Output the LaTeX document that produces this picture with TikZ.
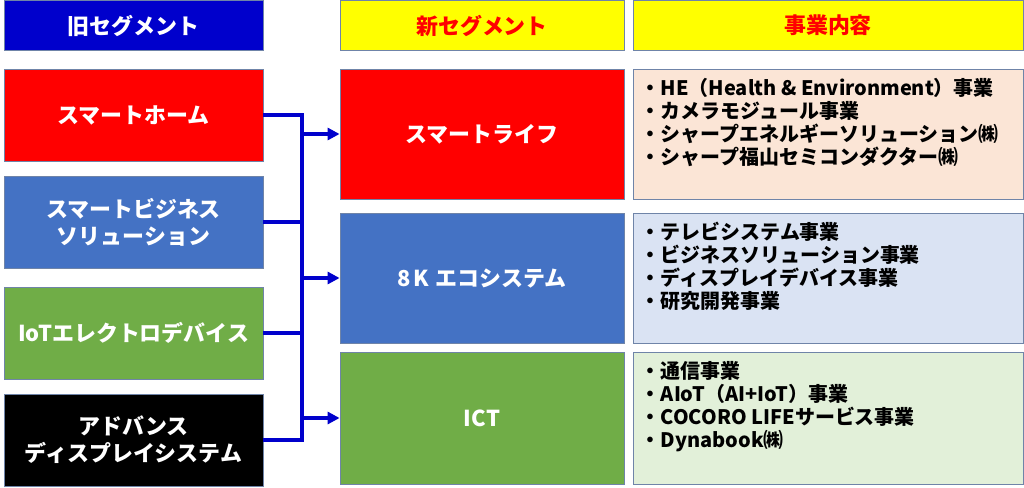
\documentclass[tikz,border=0pt]{standalone}
\usepackage{fontspec}
\setmainfont{Noto Sans CJK JP}
\usetikzlibrary{arrows.meta, calc}
\definecolor{hdblue}{HTML}{0000CC}
\definecolor{segred}{HTML}{FF0000}
\definecolor{segblue}{HTML}{4472C4}
\definecolor{seggreen}{HTML}{70AD47}
\definecolor{hdyellow}{HTML}{FFFF00}
\definecolor{lifebg}{HTML}{FBE5D6}
\definecolor{ecobg}{HTML}{DAE3F3}
\definecolor{ictbg}{HTML}{E2F0D9}
\definecolor{edgegray}{HTML}{6F84A8}

\begin{document}
\begin{tikzpicture}[
  seg/.style={rectangle, draw=edgegray, line width=0.6pt, text=white, align=center, inner sep=0pt, minimum width=6.475cm, minimum height=2.3cm, font=\bfseries\fontsize{15.6}{19.2}\selectfont},
  newseg/.style={seg, minimum width=7.1cm, minimum height=3.25cm},
  head/.style={seg, minimum height=1.25cm},
  yhead/.style={head, fill=hdyellow, text=segred},
  descbox/.style={rectangle, draw=edgegray, line width=0.6pt, minimum width=9.75cm, minimum height=3.25cm},
  desc/.style={anchor=north west, align=left, inner sep=0pt, font=\bfseries\fontsize{14.2}{16.4}\selectfont},
  link/.style={draw=hdblue, line width=2.6pt},
  arrow/.style={link, -{Triangle[length=3mm, width=3mm]}}
]
\useasboundingbox (0,0) rectangle (25.6,-12.175);

% headers
\node[head, fill=hdblue] (oldhead) at (3.3375,-0.64) {旧セグメント};
\node[yhead, minimum width=7.1cm] (newhead) at (12.05,-0.64) {新セグメント};
\node[yhead, minimum width=9.75cm] (bizhead) at (20.7,-0.64) {事業内容};

% old segments
\node[seg, fill=segred] (home) at (3.3375,-2.875) {スマートホーム};
\node[seg, fill=segblue] (biz) at (3.3375,-5.55) {スマートビジネス\\ソリューション};
\node[seg, fill=seggreen] (iot) at (3.3375,-8.325) {IoTエレクトロデバイス};
\node[seg, fill=black] (adv) at (3.3375,-11.0) {アドバンス\\ディスプレイシステム};

% new segments
\node[newseg, fill=segred] (life) at (12.05,-3.35) {スマートライフ};
\node[newseg, fill=segblue] (eco) at (12.05,-6.95) {8\kern0.12em K\kern0.3em エコシステム};
\node[newseg, fill=seggreen, minimum height=3.3cm] (ict) at (12.05,-10.45) {ICT};

% business contents
\node[descbox, fill=lifebg] (lifebox) at (20.7,-3.35) {};
\node[descbox, fill=ecobg] (ecobox) at (20.7,-6.95) {};
\node[descbox, fill=ictbg, minimum height=3.3cm] (ictbox) at (20.7,-10.45) {};

\node[desc] (lifetext) at ($(lifebox.north west)+(0.2,-0.23)$) {・HE（Health \& Environment）事業\\・カメラモジュール事業\\・シャープエネルギーソリューション㈱\\・シャープ福山セミコンダクター㈱};
\node[desc] (ecotext) at ($(ecobox.north west)+(0.2,-0.23)$) {・テレビシステム事業\\・ビジネスソリューション事業\\・ディスプレイデバイス事業\\・研究開発事業};
\node[desc] (icttext) at ($(ictbox.north west)+(0.2,-0.23)$) {・通信事業\\・AIoT（AI+IoT）事業\\・COCORO LIFEサービス事業\\・Dynabook㈱};

% connectors
\coordinate (bus) at (7.55,0);
\draw[link] (home.east) -| (bus |- adv.east) -- (adv.east);
\draw[link] (biz.east) -- (biz.east -| bus);
\draw[link] (iot.east) -- (iot.east -| bus);
\draw[arrow] (life.west -| bus) -- (life.west);
\draw[arrow] (eco.west -| bus) -- (eco.west);
\draw[arrow] (ict.west -| bus) -- (ict.west);
\end{tikzpicture}
\end{document}
